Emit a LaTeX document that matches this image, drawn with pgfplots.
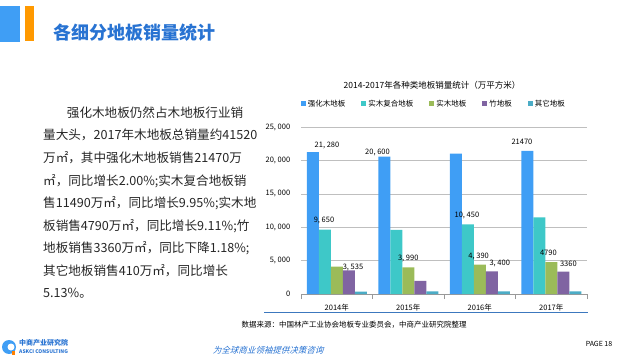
\documentclass[border=0pt]{standalone}
\usepackage{pgfplots}
\pgfplotsset{compat=1.18}
\usepackage{fontspec}
\setmainfont{Noto Sans CJK SC}
\definecolor{cBlue}{RGB}{63,158,245}
\definecolor{cTeal}{RGB}{62,200,200}
\definecolor{cGreen}{RGB}{155,187,89}
\definecolor{cPurple}{RGB}{128,100,162}
\definecolor{cOther}{RGB}{75,172,198}
\definecolor{titleBlue}{RGB}{40,115,210}
\definecolor{lineBlue}{RGB}{60,120,190}
\begin{document}
\begin{tikzpicture}
\path (0pt,0pt) rectangle (625pt,360pt);
% header
\fill[cBlue] (0pt,318pt) rectangle (20pt,354pt);
\fill[orange!80!yellow] (25pt,319pt) rectangle (34pt,354pt);
\node[anchor=west,text=titleBlue,font=\fontsize{18}{20}\selectfont\bfseries,inner sep=0pt] at (53pt,327pt) {各细分地板销量统计};
% left paragraph
\begin{scope}[every node/.style={anchor=base west,inner sep=0pt,font=\fontsize{12.6}{14}\selectfont,text=black!85}]
\node at (66.7pt,242.5pt) {强化木地板仍然占木地板行业销};
\node at (43pt,220.5pt) {量大头，2017年木地板总销量约41520};
\node at (43pt,197.5pt) {万㎡，其中强化木地板销售21470万};
\node at (43pt,174.5pt) {㎡，同比增长2.00\%;实木复合地板销};
\node at (43pt,152.5pt) {售11490万㎡，同比增长9.95\%;实木地};
\node at (43pt,129.5pt) {板销售4790万㎡，同比增长9.11\%;竹};
\node at (43pt,107.5pt) {地板销售3360万㎡，同比下降1.18\%;};
\node at (43pt,84.5pt) {其它地板销售410万㎡，同比增长};
\node at (43pt,62.5pt) {5.13\%。};
\end{scope}
% chart title
\node[font=\fontsize{8.5}{10}\selectfont,inner sep=0pt] at (432pt,275pt) {2014-2017年各种类地板销量统计（万平方米）};
\begin{axis}[
  at={(301pt,66pt)}, anchor=south west,
  scale only axis, width=286pt, height=166.7pt,
  ybar=0pt, bar width=12pt,
  xmin=-0.5, xmax=3.5, ymin=0, ymax=25000,
  scaled y ticks=false,
  xtick={0,1,2,3}, xticklabels={2014年,2015年,2016年,2017年},
  minor xtick={-0.5,0.5,1.5,2.5,3.5},
  major x tick style={draw=none},
  minor tick length=5pt,
  ytick={0,5000,10000,15000,20000,25000},
  yticklabels={0,{5, 000},{10, 000},{15, 000},{20, 000},{25, 000}},
  ymajorgrids, grid style={gray!50},
  axis lines*=left,
  y axis line style={draw=none}, ytick style={draw=none},
  x axis line style={gray!80}, xtick style={gray!80},
  tick align=outside,
  tick label style={font=\fontsize{7.5}{9}\selectfont},
  xticklabel style={yshift=-2pt},
  yticklabel style={xshift=-3pt},
  legend columns=5,
  legend style={at={(0.465,1.14)},anchor=center,draw=none,fill=none,
    font=\fontsize{7.5}{8}\selectfont, inner sep=0pt,
    /tikz/every even column/.append style={column sep=14pt}},
  legend image code/.code={\fill[#1] (0pt,-2.5pt) rectangle (5pt,2.5pt);},
]
\addplot[fill=cBlue,draw=none] coordinates {(0,21280) (1,20600) (2,21050) (3,21470)};
\addlegendentry{强化木地板}
\addplot[fill=cTeal,draw=none] coordinates {(0,9650) (1,9600) (2,10450) (3,11490)};
\addlegendentry{实木复合地板}
\addplot[fill=cGreen,draw=none] coordinates {(0,4100) (1,3990) (2,4390) (3,4790)};
\addlegendentry{实木地板}
\addplot[fill=cPurple,draw=none] coordinates {(0,3535) (1,1950) (2,3400) (3,3360)};
\addlegendentry{竹地板}
\addplot[fill=cOther,draw=none] coordinates {(0,370) (1,380) (2,390) (3,410)};
\addlegendentry{其它地板}
\begin{scope}[every node/.style={font=\fontsize{7.5}{9}\selectfont,inner sep=0pt}]
\node at (axis cs:-0.136,22245) {21, 280};
\node at (axis cs:-0.178,10995) {9, 650};
\node at (axis cs:0.227,4050) {3, 535};
\node at (axis cs:0.57,21150) {20, 600};
\node at (axis cs:1.0,5300) {3, 990};
\node at (axis cs:1.82,11800) {10, 450};
\node at (axis cs:1.985,5700) {4, 390};
\node at (axis cs:2.28,4600) {3, 400};
\node at (axis cs:2.59,22750) {21470};
\node at (axis cs:2.96,6200) {4790};
\node at (axis cs:3.24,4600) {3360};
\end{scope}
\end{axis}
% separator line and source
\draw[lineBlue,line width=0.8pt] (264pt,47.3pt) -- (588pt,47.3pt);
\node[font=\fontsize{7.5}{9}\selectfont,inner sep=0pt] at (354pt,35pt) {数据来源：中国林产工业协会地板专业委员会，中商产业研究院整理};
% footer
\fill[cBlue] (9pt,13pt) circle (7pt);
\fill[white] (11pt,13pt) circle (3.5pt);
\fill[orange] (12pt,5pt) rectangle (15pt,9pt);
\node[anchor=west,inner sep=0pt,text=titleBlue,font=\fontsize{7}{8}\selectfont\bfseries] at (19pt,17pt) {中商产业研究院};
\node[anchor=west,inner sep=0pt,text=titleBlue,font=\fontsize{5}{6}\selectfont\bfseries] at (19pt,8pt) {ASKCI CONSULTING};
\node[text=titleBlue,xslant=0.3,font=\fontsize{8.5}{10}\selectfont,inner sep=0pt] at (269pt,10pt) {为全球商业领袖提供决策咨询};
\node[font=\fontsize{7}{8}\selectfont,inner sep=0pt] at (599pt,16pt) {PAGE 18};
\end{tikzpicture}
\end{document}
